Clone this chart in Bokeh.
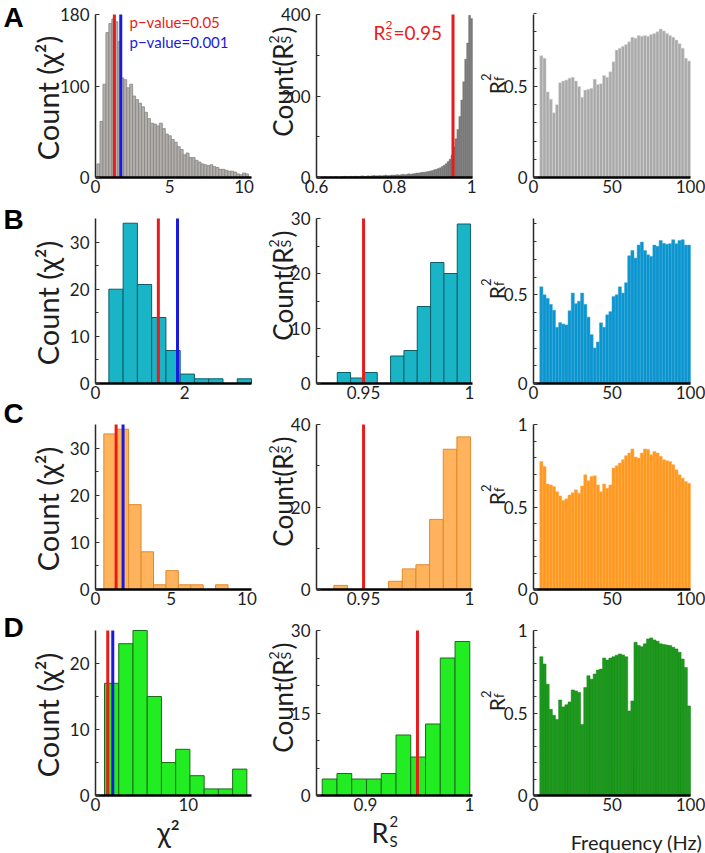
import numpy as np
from math import pi
from bokeh.plotting import figure
from bokeh.layouts import row, column
from bokeh.models import Label, FixedTicker, Range1d
from bokeh.embed import file_html
from bokeh.resources import INLINE

FONT = "Lato"

# ---------------- data ----------------
# Column 1: chi-square histograms (bin range, counts)
chiA_counts = [15, 62, 103, 160, 170, 175, 172, 150, 110, 108, 99, 103, 90, 86, 82, 78, 72, 65, 60, 59,
               57, 60, 54, 48, 46, 42, 39, 34, 31, 25, 27, 22, 22, 19, 17, 15, 14, 13, 14, 12,
               11, 9, 9, 8, 7, 7, 6, 4, 3, 5, 4]
chiA_range = (0.1, 10.3)
chiB_counts = [20, 34, 21, 14, 7, 2, 1, 1, 0, 1]
chiB_range = (0.30, 3.50)
chiC_counts = [33, 34, 18, 8, 1, 4, 1, 1, 0, 1]
chiC_range = (0.55, 8.75)
chiD_counts = [17, 23, 25, 15, 5, 7, 3, 1, 1, 4]
chiD_range = (0.97, 16.3)
chi_p05 = [1.27, 1.41, 1.36, 1.32]
chi_p001 = [1.70, 1.84, 1.82, 1.86]

# Column 2: R_S^2 histograms
rsA_counts = [1, 0, 1, 1, 2, 1, 1, 2, 1, 2, 2, 1, 2, 2, 3, 2, 2, 3, 2, 3,
              3, 2, 3, 4, 3, 3, 4, 3, 4, 5, 4, 4, 5, 4, 5, 6, 5, 5, 6, 6,
              6, 7, 6, 7, 8, 7, 8, 9, 8, 9, 10, 11, 11, 12, 13, 13, 14, 15, 16, 17,
              19, 20, 22, 24, 27, 30, 34, 39, 45, 55, 75, 95, 118, 150, 190, 235, 290, 330, 398, 390]
rsA_range = (0.6, 1.0)
rsB_counts = [2, 1, 2, 0, 5, 6, 14, 22, 20, 29]
rsB_range = (0.9376, 1.0005)
rsC_counts = [1, 0, 0, 0, 2, 5, 6, 17, 34, 37]
rsC_range = (0.936, 1.0005)
rsD_counts = [3, 4, 3, 3, 4, 11, 7, 13, 25, 28]
rsD_range = (0.8584, 1.0003)
rs_threshold = 0.95

# Column 3: R_f^2 per frequency (2 Hz bins, 4-100 Hz)
freq_range = (4, 100)
rfA = [0.668, 0.655, 0.47, 0.43, 0.355, 0.40, 0.52, 0.53, 0.535, 0.545, 0.55, 0.53, 0.50, 0.44, 0.48, 0.485,
       0.49, 0.54, 0.51, 0.515, 0.56, 0.55, 0.58, 0.635, 0.70, 0.71, 0.72, 0.73, 0.745, 0.77, 0.765, 0.78,
       0.775, 0.78, 0.775, 0.785, 0.79, 0.80, 0.815, 0.805, 0.79, 0.78, 0.77, 0.755, 0.735, 0.71, 0.655, 0.64]
rfB = [0.545, 0.50, 0.48, 0.446, 0.413, 0.317, 0.343, 0.335, 0.33, 0.41, 0.51, 0.45, 0.464, 0.51, 0.446, 0.374,
       0.275, 0.20, 0.234, 0.342, 0.317, 0.387, 0.405, 0.49, 0.50, 0.545, 0.51, 0.568, 0.72, 0.75, 0.707, 0.78,
       0.797, 0.75, 0.725, 0.716, 0.78, 0.773, 0.806, 0.79, 0.785, 0.788, 0.81, 0.788, 0.806, 0.81, 0.78, 0.78]
rfC = [0.776, 0.746, 0.64, 0.634, 0.624, 0.593, 0.567, 0.539, 0.55, 0.573, 0.587, 0.604, 0.583, 0.628, 0.695, 0.659,
       0.685, 0.689, 0.634, 0.593, 0.64, 0.614, 0.634, 0.736, 0.75, 0.766, 0.787, 0.811, 0.827, 0.852, 0.803, 0.797,
       0.827, 0.852, 0.848, 0.817, 0.837, 0.827, 0.807, 0.787, 0.78, 0.776, 0.756, 0.726, 0.695, 0.675, 0.654, 0.644]
rfD = [0.841, 0.797, 0.675, 0.522, 0.486, 0.461, 0.579, 0.537, 0.55, 0.567, 0.640, 0.634, 0.624, 0.431, 0.654, 0.726,
       0.705, 0.736, 0.760, 0.766, 0.833, 0.821, 0.833, 0.841, 0.85, 0.858, 0.852, 0.841, 0.512, 0.573, 0.929, 0.909,
       0.902, 0.919, 0.949, 0.955, 0.943, 0.935, 0.919, 0.915, 0.912, 0.909, 0.898, 0.888, 0.868, 0.827, 0.776, 0.543]

# axes: limits, ticks, tick labels
chi_xlim = [(0, 10.5), (0, 3.5), (0, 10.3), (0, 16.8)]
chi_ylim = [(0, 180), (0, 35), (0, 35), (0, 25)]
chi_xticks = [[0, 5, 10], [0, 2], [0, 5, 10], [0, 10]]
chi_xticklabels = [["0", "5", "10"], ["0", "2"], ["0", "5", "10"], ["0", "10"]]
chi_yticks = [[0, 100, 180], [0, 10, 20, 30], [0, 10, 20, 30], [0, 10, 20]]
chi_yticklabels = [["0", "100", "180"], ["0", "10", "20", "30"], ["0", "10", "20", "30"], ["0", "10", "20"]]
chi_yminor = [[], [5, 15, 25], [5, 15, 25], [5, 15]]

rs_xlim = [(0.6, 1.0), (0.9278, 1.0014), (0.9278, 1.0014), (0.8529, 1.0029)]
rs_ylim = [(0, 400), (0, 30), (0, 40), (0, 30)]
rs_xticks = [[0.6, 0.8, 1.0], [0.95, 1.0], [0.95, 1.0], [0.9, 1.0]]
rs_xticklabels = [["0.6", "0.8", "1"], ["0.95", "1"], ["0.95", "1"], ["0.9", "1"]]
rs_yticks = [[0, 200, 400], [0, 10, 20, 30], [0, 20, 40], [0, 15, 30]]
rs_yticklabels = [["0", "200", "400"], ["0", "10", "20", "30"], ["0", "20", "40"], ["0", "15", "30"]]
rs_yminor = [[100, 300], [5, 15, 25], [10, 30], [5, 10, 20, 25]]

rf_xlim = (0, 100)
rf_ylim = [(0, 0.895), (0, 0.93), (0, 1.0), (0, 1.0)]
rf_xticks = [0, 50, 100]
rf_xticklabels = ["0", "50", "100"]
rf_yticks = [[0, 0.5], [0, 0.5], [0, 0.5, 1.0], [0, 0.5, 1.0]]
rf_yticklabels = [["0", "0.5"], ["0", "0.5"], ["0", "0.5", "1"], ["0", "0.5", "1"]]
rf_yminor = [0.1, 0.2, 0.3, 0.4, 0.6, 0.7, 0.8, 0.9]

panel_letters = ["A", "B", "C", "D"]

# colours
hist_fill = ["#b3afab", "#19b4c6", "#ffb35c", "#22ec22"]
hist_line = ["#858585", "#0d5d6a", "#e08a2c", "#1d6b1d"]
rsA_fill, rsA_line = "#7b7b7b", "#6e6e6e"
rf_fill = ["#a9a9a9", "#0b95cf", "#ff981f", "#1c9a1c"]
rf_line = ["#d8d8d8", "#3aa7d8", "#ffae52", "#148014"]
RED, BLUE = "#e81c1c", "#1a1adf"

# ---------------- layout geometry (page pixels) ----------------
PAGE_H = 853
LETTER_W = 28
COL_X0 = [28, 258, 476]
COL_W = [230, 218, 229]
ROW_Y0 = [0, 204, 402, 609]
ROW_H = [204, 198, 207, 244]
FRAME_X = [(95, 251), (316, 472), (533, 690)]
FRAME_Y = [(14, 177), (218, 383), (424, 589), (630, 795)]
LETTER_CENTER = [17, 219, 413, 627]


def make_panel(ci, ri, xlim, ylim, xt, xtl, yt, ytl, yminor):
    X0, W = COL_X0[ci], COL_W[ci]
    Y0, H = ROW_Y0[ri], ROW_H[ri]
    L, R = FRAME_X[ci]
    T, B = FRAME_Y[ri]
    sx = (xlim[1] - xlim[0]) / (R - L)
    sy = (ylim[1] - ylim[0]) / (B - T)
    xr = Range1d(xlim[0] - (L - X0) * sx, xlim[1] + (X0 + W - R) * sx)
    yr = Range1d(ylim[0] - (Y0 + H - B) * sy, ylim[1] + (T - Y0) * sy)
    p = figure(width=W, height=H, x_range=xr, y_range=yr,
               output_backend="svg", toolbar_location=None, tools="",
               min_border_left=0, min_border_right=0, min_border_top=0, min_border_bottom=0)
    p.grid.visible = False
    p.outline_line_color = None
    p.background_fill_color = "white"
    p.border_fill_color = "white"
    xa, ya = p.xaxis[0], p.yaxis[0]
    xa.fixed_location = ylim[0]
    xa.bounds = xlim
    ya.fixed_location = xlim[0]
    ya.bounds = ylim
    xa.ticker = FixedTicker(ticks=xt)
    xa.major_label_overrides = dict(zip(xt, xtl))
    ya.ticker = FixedTicker(ticks=yt, minor_ticks=yminor)
    ya.major_label_overrides = dict(zip(yt, ytl))
    for ax in (xa, ya):
        ax.major_label_text_font = FONT
        ax.major_label_text_font_size = "17px"
        ax.major_label_text_color = "#1e1e1e"
        ax.major_tick_out = 0
        ax.major_tick_in = 4
        ax.minor_tick_out = 0
        ax.minor_tick_in = 3
        ax.major_tick_line_color = "#333333"
        ax.minor_tick_line_color = "#333333"
    xa.major_label_standoff = 2
    ya.major_label_standoff = 6
    xa.axis_line_width = 2.5
    xa.axis_line_color = "black"
    xa.major_tick_in = 0
    xa.minor_tick_line_color = None
    ya.axis_line_width = 1.5
    ya.axis_line_color = "#2a2a2a"
    ya.major_label_orientation = "horizontal"
    return p


def add_label(p, X0, Yb, X, Y, text, size, color="#1e1e1e", angle=0.0, align="left",
              baseline="alphabetic", bold=False, font=FONT):
    lab = Label(x=X - X0, y=Yb - Y, x_units="screen", y_units="screen", text=text,
                text_font=font, text_font_size=f"{size}px", text_color=color, angle=angle,
                text_align=align, text_baseline=baseline,
                text_font_style="bold" if bold else "normal")
    p.add_layout(lab)


def plab(p, ci, ri, X, Y, text, size, **kw):
    add_label(p, COL_X0[ci], ROW_Y0[ri] + ROW_H[ri], X, Y, text, size, **kw)


def centers(lo, hi, n):
    w = (hi - lo) / n
    return lo + w * (np.arange(n) + 0.5), w


chi_counts = [chiA_counts, chiB_counts, chiC_counts, chiD_counts]
chi_ranges = [chiA_range, chiB_range, chiC_range, chiD_range]
rs_counts = [rsA_counts, rsB_counts, rsC_counts, rsD_counts]
rs_ranges = [rsA_range, rsB_range, rsC_range, rsD_range]
rf_vals = [rfA, rfB, rfC, rfD]

# narrow strip holding the panel letters
letters = figure(width=LETTER_W, height=PAGE_H, x_range=Range1d(0, 1), y_range=Range1d(0, 1),
                 output_backend="svg", toolbar_location=None, tools="",
                 x_axis_type=None, y_axis_type=None,
                 min_border_left=0, min_border_right=0, min_border_top=0, min_border_bottom=0)
letters.outline_line_color = None
letters.grid.visible = False
for ri in range(4):
    add_label(letters, 0, PAGE_H, 3, LETTER_CENTER[ri], panel_letters[ri], 28, color="black",
              bold=True, font="Liberation Sans", baseline="middle")

rows = []
for ri in range(4):
    T, B = FRAME_Y[ri]
    # ---- column 1: chi^2 histogram
    p1 = make_panel(0, ri, chi_xlim[ri], chi_ylim[ri], chi_xticks[ri], chi_xticklabels[ri],
                    chi_yticks[ri], chi_yticklabels[ri], chi_yminor[ri])
    c, w = centers(chi_ranges[ri][0], chi_ranges[ri][1], len(chi_counts[ri]))
    p1.vbar(x=c, width=w, top=chi_counts[ri], bottom=0, fill_color=hist_fill[ri],
            line_color=hist_line[ri], line_width=1 if ri else 0.8)
    y0, y1 = chi_ylim[ri]
    p1.segment(x0=[chi_p05[ri]], y0=[y0], x1=[chi_p05[ri]], y1=[y1], line_color=RED, line_width=3)
    p1.segment(x0=[chi_p001[ri]], y0=[y0], x1=[chi_p001[ri]], y1=[y1], line_color=BLUE, line_width=3)
    plab(p1, 0, ri, 47, (T + B) / 2 + 2, "Count (χ²)", 29, angle=pi / 2, align="center",
         baseline="middle")
    if ri == 0:
        plab(p1, 0, ri, 129, 21, "p−value=0.05", 15, color=RED, baseline="middle")
        plab(p1, 0, ri, 129, 41, "p−value=0.001", 15, color=BLUE, baseline="middle")
    if ri == 3:
        plab(p1, 0, ri, 168, 831, "χ²", 28, align="center", baseline="middle")

    # ---- column 2: R_S^2 histogram
    p2 = make_panel(1, ri, rs_xlim[ri], rs_ylim[ri], rs_xticks[ri], rs_xticklabels[ri],
                    rs_yticks[ri], rs_yticklabels[ri], rs_yminor[ri])
    c, w = centers(rs_ranges[ri][0], rs_ranges[ri][1], len(rs_counts[ri]))
    if ri == 0:
        p2.vbar(x=c, width=w, top=rs_counts[ri], bottom=0, fill_color=rsA_fill,
                line_color=rsA_line, line_width=0.4)
    else:
        p2.vbar(x=c, width=w, top=rs_counts[ri], bottom=0, fill_color=hist_fill[ri],
                line_color=hist_line[ri], line_width=1)
    y0, y1 = rs_ylim[ri]
    p2.segment(x0=[rs_threshold], y0=[y0], x1=[rs_threshold], y1=[y1], line_color=RED, line_width=3)
    jy = T + 29
    plab(p2, 1, ri, 282, jy, "Count(R", 26, angle=pi / 2, align="right")
    plab(p2, 1, ri, 285, jy, "S", 14, angle=pi / 2, align="left")
    plab(p2, 1, ri, 273, jy, "2", 14, angle=pi / 2, align="left")
    plab(p2, 1, ri, 282, jy - 10, ")", 26, angle=pi / 2, align="left")
    if ri == 0:
        plab(p2, 1, ri, 373, 32, "R", 19, color=RED)
        plab(p2, 1, ri, 385, 35, "S", 12, color=RED)
        plab(p2, 1, ri, 385, 24, "2", 12, color=RED)
        plab(p2, 1, ri, 393, 32, "=0.95", 19, color=RED)
    if ri == 3:
        plab(p2, 1, ri, 388, 832, "R", 27, align="right", baseline="middle")
        plab(p2, 1, ri, 389, 840, "S", 15, baseline="middle")
        plab(p2, 1, ri, 389, 821, "2", 15, baseline="middle")

    # ---- column 3: R_f^2 vs frequency
    p3 = make_panel(2, ri, rf_xlim, rf_ylim[ri], rf_xticks, rf_xticklabels,
                    rf_yticks[ri], rf_yticklabels[ri], rf_yminor)
    c, w = centers(freq_range[0], freq_range[1], len(rf_vals[ri]))
    p3.vbar(x=c, width=w, top=rf_vals[ri], bottom=0, fill_color=rf_fill[ri],
            line_color=rf_line[ri], line_width=0.5)
    jy = (T + B) / 2 - 15
    plab(p3, 2, ri, 496, jy, "R", 21, angle=pi / 2, align="right")
    plab(p3, 2, ri, 498, jy, "f", 13, angle=pi / 2, align="left")
    plab(p3, 2, ri, 485, jy, "2", 13, angle=pi / 2, align="left")
    if ri == 3:
        plab(p3, 2, ri, 636, 841, "Frequency (Hz)", 20, align="center", baseline="middle")

    rows.append(row(p1, p2, p3))

layout = row(letters, column(*rows))
open("out.html", "w").write(file_html(layout, INLINE))
